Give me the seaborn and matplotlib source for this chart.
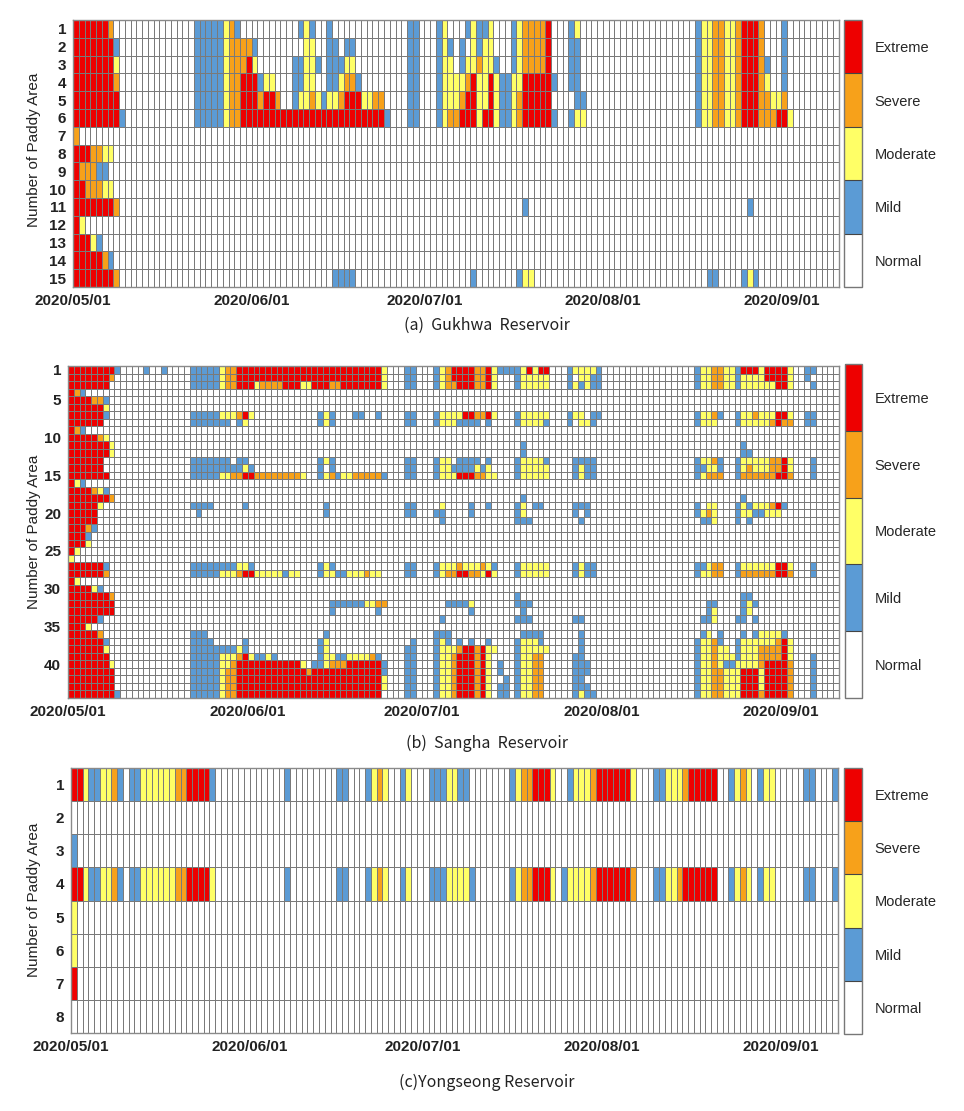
import numpy as np
import pandas as pd
import matplotlib
matplotlib.use('Agg')
import matplotlib.pyplot as plt
import seaborn as sns
from matplotlib.colors import ListedColormap

# daily columns, 2020/05/01 .. 2020/09/10
days = pd.date_range('2020-05-01', '2020-09-10', freq='D')
tick_days = ['2020-05-01', '2020-06-01', '2020-07-01', '2020-08-01', '2020-09-01']

levels = ['Normal', 'Mild', 'Moderate', 'Severe', 'Extreme']
level_colors = ['#ffffff', '#5b9bd5', '#ffff66', '#f7a11a', '#ee0000']

# one string per paddy area: "first_day:codes" chunks, 0=Normal 1=Mild 2=Moderate 3=Severe 4=Extreme
gukhwa_rows = [
    "0:4444443 21:11111231 39:121 44:1 58:11 63:12 68:12112 76:1233334 86:12 108:122332234443 123:1",
    "0:44444441 21:11111233331 40:22 44:11 47:11 58:11 63:121 67:1 69:2122 76:1233334 86:11 108:122332234443 123:1",
    "0:44444442 21:11111233342 38:1122 42:1 44:111 47:22 58:11 63:122 67:1223221 76:1233334 86:11 108:122332234443 120:1 123:1",
    "0:44444443 21:111112334441 33:22 38:1122 44:11 46:2331 58:11 63:12222342242112 77:2444441 86:11 108:1223322344432 123:1",
    "0:44444444 21:111112334443443 38:1223212234442233 58:11 63:12223442242112344444 87:11 108:1223322344433223",
    "0:444444441 21:11111233 29:4444444444444444444444444 54:1 58:11 63:123344424421123444441 86:122 108:12233223444333442",
    "0:3",
    "0:4443322",
    "0:433311",
    "0:4433322",
    "0:44444443 78:1 117:1",
    "0:42",
    "0:44421",
    "0:4444431",
    "0:44444443 45:1111 69:1 77:122 110:11 116:121",
]

sangha_rows = [
    "0:444444441 13:1 16:1 21:11111233 29:4444444444444444444444444 54:2 58:11 63:12344443342111124244 86:122221 108:12233221444244442 127:11",
    "0:44444443 21:11111233 29:4444444444444444444444444 54:2 58:11 63:12344443342 77:122222 86:1 88:2211 108:12233221222244442 127:1",
    "0:4444444 21:1111123344423333444224443344444442 58:11 63:12334443342 77:122222 86:121211 108:12233221222222442 128:1",
    "0:431",
    "0:4444331",
    "0:4444442",
    "0:4444441 21:11111222342 43:121 49:11 53:1 58:11 63:12222443342 77:122222 86:122 90:11 108:12231 115:1223222442 127:11",
    "0:444444 21:1111111 29:12 43:121 58:11 63:12221111 72:1 77:122221 86:1 88:221 108:1222 115:1222223433 127:11",
    "0:431",
    "0:4444432",
    "0:44444442 78:1 116:1",
    "0:44444442 78:1 116:11",
    "0:444444 21:1111111 29:11 43:121 58:11 63:122 67:1111 72:1 77:122221 87:1111 108:12231 115:1222223342 128:1",
    "0:444444 21:111111111 30:21 43:1 45:1 58:11 63:1221111212 77:122222 87:1211 108:11221 115:1232223342 128:1",
    "0:4444444 21:11111223344333333332 43:123122333331 58:11 63:12224443322 77:122222 87:1211 108:12333 115:1333333443 128:1",
    "0:421",
    "0:4444321",
    "0:44444443 78:1 116:1",
    "0:444442 21:1111 30:1 44:1 58:11 64:2 69:1 72:1 77:12 80:11 87:111 108:1 110:22 115:121222341",
    "0:44444 22:1 44:1 58:11 63:11 69:1 77:12 87:1 89:1 108:1232 115:12211222",
    "0:44444 64:1 77:111 88:1 109:112 115:1 117:1",
    "0:44431",
    "0:4441",
    "0:4442",
    "0:42",
    "0:2",
    "0:4444441 21:11111111221 43:121 58:11 63:12223222321 77:122222 87:1211 108:11233 115:1222222442 128:1",
    "0:4444443 21:1111122234422222122 43:12211222322 58:11 63:12334433242 77:122222 87:1211 108:12233 115:1333333443 128:1",
    "0:42",
    "0:444421",
    "0:44444443 77:1 116:11",
    "0:44444444 45:1111112233 65:11112 77:111 110:11 116:121",
    "0:44444444 45:1 53:1 69:1 78:1 110:12 116:12",
    "0:444441 64:1 77:111 87:11 109:112 115:11 118:1",
    "0:4442",
    "0:444443 21:111 44:1 63:111 78:1111 88:1 109:12 112:1 116:1 118:122221",
    "0:4444441 21:1111 30:1 43:12 59:1 63:121 67:1 69:1 72:1 77:12221 88:1 108:12231 115:1222222342",
    "0:4444442 21:1111111121 43:12 58:11 63:12223443422 77:122222 88:1 108:122322 115:1222333342",
    "0:4444444 21:111112223421121 43:12211222231 58:11 63:1223444342 77:12233 87:11 108:1223222 115:1222333342 128:1",
    "0:44444442 21:11111223444444444442 42:1123334444441 58:11 63:1223444342 74:1 77:12233 87:111 108:12232112222344443 128:1",
    "0:44444444 21:1111123344444444444434444444444441 58:11 63:1223444342 74:1 77:12233 87:111 108:12233222444244443 128:1",
    "0:44444444 21:11111233 29:4444444444444444444444444 54:2 58:11 63:1223444342 75:1 77:12233 87:11 108:12233222444244443 128:1",
    "0:44444444 21:11111233 29:4444444444444444444444444 54:2 58:11 63:1223444342 74:11 77:12233 87:111 108:12233222444244443 128:1",
    "0:444444441 21:11111233 29:4444444444444444444444444 58:11 63:1223444342 74:11 77:12233 87:1211 108:12233222444344443 128:1",
]

yongseong_rows = [
    "0:442112231 10:112222223344441 37:1 46:11 51:1232 57:12 62:1112211 76:12334442 86:122234444442 101:11222344444 114:1232 119:122 127:11 132:1",
    "",
    "0:1",
    "0:442112231 10:112222223344442 37:1 46:11 51:1232 57:12 62:11122221 76:12334442 85:1222234444443 101:11223444444 114:1232 119:122 127:11 132:1",
    "0:2",
    "0:2",
    "0:4",
    "",
]

gukhwa_ylabels = list(range(1, 16))
sangha_ylabels = [1, 5, 10, 15, 20, 25, 30, 35, 40]
yongseong_ylabels = list(range(1, 9))


def build(rows):
    grid = np.zeros((len(rows), len(days)), dtype=int)
    for i, spec in enumerate(rows):
        for chunk in spec.split():
            start, codes = chunk.split(':')
            for j, ch in enumerate(codes):
                if int(start) + j < len(days):
                    grid[i, int(start) + j] = int(ch)
    return pd.DataFrame(grid, index=range(1, len(rows) + 1), columns=days)


def box(x0, y0, x1, y1):
    # pixel box (top-left origin) -> figure fraction
    return [x0 / 964, 1 - y1 / 1111, (x1 - x0) / 964, (y1 - y0) / 1111]


sns.set_style('white')
plt.rcParams['font.family'] = ['Liberation Sans', 'DejaVu Sans']

cmap = ListedColormap(level_colors)
fig = plt.figure(figsize=(9.64, 11.11), dpi=100)

panels = [
    (build(gukhwa_rows), gukhwa_ylabels, (73, 20, 839, 287), (844, 20, 862, 287),
     '(a)  Gukhwa  Reservoir', 325, 150),
    (build(sangha_rows), sangha_ylabels, (68, 366, 839, 698), (845, 364, 862, 698),
     '(b)  Sangha  Reservoir', 743, 532),
    (build(yongseong_rows), yongseong_ylabels, (71, 768, 838, 1033), (844, 768, 862, 1034),
     '(c)Yongseong Reservoir', 1082, 900),
]

for df, ylabels, axbox, cbox, caption, cap_y, ylab_y in panels:
    ax = fig.add_axes(box(*axbox))
    cax = fig.add_axes(box(*cbox))
    sns.heatmap(df, ax=ax, cmap=cmap, vmin=-0.5, vmax=4.5,
                linewidths=0.7, linecolor='#7a7a7a', cbar_ax=cax,
                xticklabels=False, yticklabels=False)

    xpos = [list(df.columns).index(pd.Timestamp(d)) for d in tick_days]
    ax.set_xticks(xpos)
    ax.set_xticklabels([d.replace('-', '/') for d in tick_days], rotation=0,
                       fontsize=11, fontweight='bold', color='#222222')
    ax.set_yticks([r - 0.5 for r in ylabels])
    ax.set_yticklabels(ylabels, rotation=0, fontsize=11, fontweight='bold', color='#222222')
    ax.tick_params(length=0, pad=5)
    ax.set_xlabel('')
    ax.set_ylabel('')
    for s in ax.spines.values():
        s.set_visible(True)
        s.set_color('#8a8a8a')
        s.set_linewidth(1.0)

    cb = ax.collections[0].colorbar
    cb.set_ticks([0, 1, 2, 3, 4])
    cb.set_ticklabels(levels)
    cax.tick_params(length=0, pad=9, labelsize=10.5)
    cb.outline.set_edgecolor('#777777')
    cb.outline.set_linewidth(1.0)
    for b in [0.5, 1.5, 2.5, 3.5]:
        cax.axhline(b, color='#444444', lw=0.8)

    fig.text(34 / 964, 1 - ylab_y / 1111, 'Number of Paddy Area', rotation=90,
             ha='center', va='center', fontsize=11, color='#222222')
    fig.text(487 / 964, 1 - cap_y / 1111, caption, ha='center', va='center',
             fontsize=11.5, color='#222222',
             family=['Noto Sans CJK KR', 'DejaVu Sans'])

fig.savefig('out.png', dpi=100)
